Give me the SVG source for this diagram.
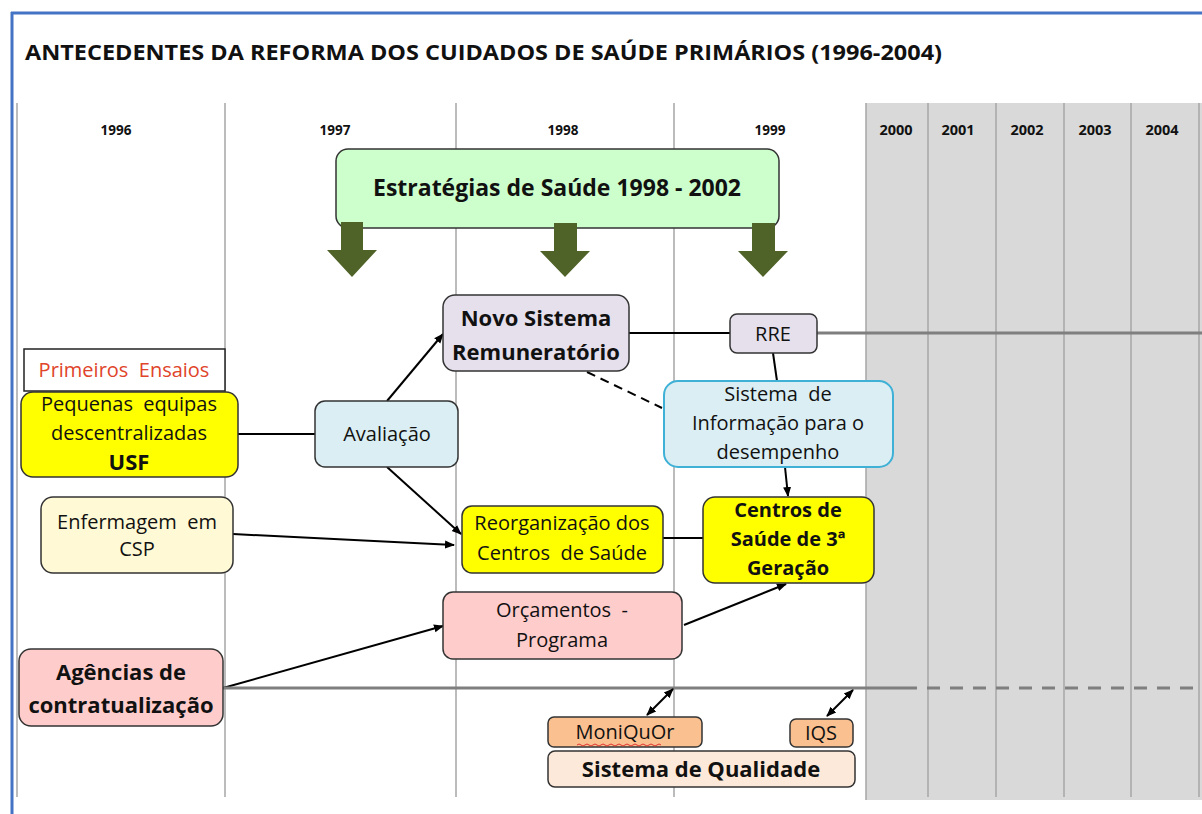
<svg xmlns="http://www.w3.org/2000/svg" width="1202" height="814" viewBox="0 0 1202 814">
<style>
text{font-family:"Open Sans","Liberation Sans",sans-serif;fill:#111;text-anchor:middle}
.yr{font-size:13.5px;font-weight:bold}
.yrg{font-size:14.5px;font-weight:bold}
.grid{stroke:#a6a6a6;stroke-width:1.5}
.n{font-size:20px}
.b{font-size:22px;font-weight:bold}
.box{stroke:#333;stroke-width:1.5}
.c{stroke:#000;stroke-width:2;fill:none}
.g{stroke:#7f7f7f;stroke-width:3;fill:none}
.ga{fill:#4f6228}
</style>
<defs>
<marker id="ah" markerWidth="10" markerHeight="10" refX="9" refY="5" orient="auto-start-reverse" markerUnits="userSpaceOnUse" viewBox="0 0 10 10">
<path d="M0 1 L10 5 L0 9 Z" fill="#000"/>
</marker>
</defs>
<rect x="0" y="0" width="1202" height="814" fill="#fff"/>
<g id="frame">
<line x1="11" y1="13" x2="1202" y2="13" stroke="#4472c4" stroke-width="3"/>
<line x1="12" y1="12" x2="12" y2="814" stroke="#4472c4" stroke-width="3"/>
</g>
<text x="25" y="60" style="font-size:21px;font-weight:bold;text-anchor:start" textLength="917" lengthAdjust="spacingAndGlyphs">ANTECEDENTES DA REFORMA DOS CUIDADOS DE SAÚDE PRIMÁRIOS (1996-2004)</text>
<g id="timeline">
<rect x="866" y="103" width="336" height="697" fill="#d9d9d9"/>
<line class="grid" x1="17" y1="103" x2="17" y2="797"/>
<line class="grid" x1="225" y1="103" x2="225" y2="797"/>
<line class="grid" x1="456" y1="103" x2="456" y2="797"/>
<line class="grid" x1="674" y1="103" x2="674" y2="797"/>
<line class="grid" x1="866" y1="103" x2="866" y2="800"/>
<line class="grid" x1="928" y1="103" x2="928" y2="797"/>
<line class="grid" x1="996" y1="103" x2="996" y2="797"/>
<line class="grid" x1="1064" y1="103" x2="1064" y2="797"/>
<line class="grid" x1="1131" y1="103" x2="1131" y2="797"/>
<line class="grid" x1="1199" y1="103" x2="1199" y2="797"/>
<text class="yr" x="116" y="135">1996</text>
<text class="yr" x="335" y="135">1997</text>
<text class="yr" x="563" y="135">1998</text>
<text class="yr" x="770" y="135">1999</text>
<text class="yrg" x="896" y="135">2000</text>
<text class="yrg" x="958" y="135">2001</text>
<text class="yrg" x="1027" y="135">2002</text>
<text class="yrg" x="1095" y="135">2003</text>
<text class="yrg" x="1162" y="135">2004</text>
</g>
<g id="connectors">
<path class="c" d="M238 434 L315 434"/>
<path class="c" d="M387 401 L443 334" marker-end="url(#ah)"/>
<path class="c" d="M387 467 L461 534" marker-end="url(#ah)"/>
<path class="c" d="M233 534 L454 545" marker-end="url(#ah)"/>
<path class="c" d="M629 333 L730 333"/>
<path class="g" d="M817 333 L1202 333"/>
<path class="c" d="M773 353 L777 381"/>
<path class="c" d="M587 372 L662 408" stroke-dasharray="9 6"/>
<path class="c" d="M785 467 L788 496" marker-end="url(#ah)"/>
<path class="c" d="M663 538 L703 538"/>
<path class="c" d="M684 625 L786 584" marker-end="url(#ah)"/>
<path class="c" d="M223 688 L443 626" marker-end="url(#ah)"/>
<path class="g" d="M223 688 L917 688"/>
<path class="g" d="M927 688 L1202 688" stroke-dasharray="13 10"/>
<path class="c" d="M647 715 L673 689" marker-start="url(#ah)" marker-end="url(#ah)"/>
<path class="c" d="M827 716 L853 690" marker-start="url(#ah)" marker-end="url(#ah)"/>
</g>
<g id="estrategias">
<rect class="box" x="336" y="149" width="443" height="79" rx="12" fill="#ccffcc"/>
<text class="b" x="557" y="196" style="font-size:23px">Estratégias de Saúde 1998 - 2002</text>
</g>
<g id="setas-verdes">
<path class="ga" d="M341 222 H363 V250 H377 L352 277 L327 250 H341 Z"/>
<path class="ga" d="M554 223 H577 V251 H590 L565 277 L540 251 H554 Z"/>
<path class="ga" d="M752 223 H775 V251 H788 L763 277 L738 251 H752 Z"/>
</g>
<g id="primeiros-ensaios">
<rect x="24" y="349" width="201" height="42" fill="#fff" stroke="#222" stroke-width="1.5"/>
<text x="124" y="377" style="font-size:20px;fill:#e0442a">Primeiros&#160; Ensaios</text>
</g>
<g id="usf">
<rect class="box" x="21" y="392" width="217" height="85" rx="12" fill="#ffff00"/>
<text class="n" x="129" y="411">Pequenas&#160; equipas</text>
<text class="n" x="129" y="440">descentralizadas</text>
<text class="b" x="129" y="470">USF</text>
</g>
<g id="avaliacao">
<rect class="box" x="315" y="401" width="143" height="66" rx="10" fill="#daeef3"/>
<text class="n" x="387" y="441">Avaliação</text>
</g>
<g id="novo-sistema">
<rect class="box" x="443" y="295" width="186" height="76" rx="12" fill="#e5e0ec"/>
<text class="b" x="536" y="326">Novo Sistema</text>
<text class="b" x="536" y="360">Remuneratório</text>
</g>
<g id="rre">
<rect class="box" x="730" y="314" width="87" height="39" rx="7" fill="#e5e0ec"/>
<text class="n" x="773" y="341">RRE</text>
</g>
<g id="sistema-informacao">
<rect x="664" y="381" width="229" height="86" rx="14" fill="#daeef3" stroke="#3fb1d6" stroke-width="2"/>
<text class="n" x="778" y="401">Sistema&#160; de</text>
<text class="n" x="778" y="430">Informação para o</text>
<text class="n" x="778" y="459">desempenho</text>
</g>
<g id="enfermagem">
<rect class="box" x="41" y="497" width="192" height="76" rx="12" fill="#fff9d5"/>
<text class="n" x="137" y="529">Enfermagem&#160; em</text>
<text class="n" x="137" y="556">CSP</text>
</g>
<g id="reorganizacao">
<rect class="box" x="462" y="506" width="201" height="67" rx="10" fill="#ffff00"/>
<text class="n" x="562" y="530">Reorganização dos</text>
<text class="n" x="562" y="560">Centros&#160; de Saúde</text>
</g>
<g id="centros-3g">
<rect class="box" x="703" y="497" width="171" height="86" rx="12" fill="#ffff00"/>
<text class="b" x="788" y="517" style="font-size:20px">Centros de</text>
<text class="b" x="788" y="546" style="font-size:20px">Saúde de 3ª</text>
<text class="b" x="788" y="575" style="font-size:20px">Geração</text>
</g>
<g id="orcamentos">
<rect class="box" x="443" y="592" width="239" height="67" rx="10" fill="#ffcccc"/>
<text class="n" x="562" y="617">Orçamentos&#160; -</text>
<text class="n" x="562" y="647">Programa</text>
</g>
<g id="agencias">
<rect class="box" x="19" y="649" width="204" height="77" rx="12" fill="#ffcccc"/>
<text class="b" x="121" y="680">Agências de</text>
<text class="b" x="121" y="713">contratualização</text>
</g>
<g id="moniquor">
<rect class="box" x="548" y="717" width="154" height="30" rx="6" fill="#fac090"/>
<text class="n" x="625" y="739">MoniQuOr</text>
<path d="M577 745 q2 -2 4 0 t4 0 t4 0 t4 0 t4 0 t4 0 t4 0 t4 0 t4 0 t4 0 t4 0 t4 0 t4 0 t4 0 t4 0 t4 0 t4 0 t4 0 t4 0 t4 0 t4 0" fill="none" stroke="#e03030" stroke-width="1"/>
</g>
<g id="iqs">
<rect class="box" x="790" y="719" width="63" height="28" rx="6" fill="#fac090"/>
<text class="n" x="821" y="740">IQS</text>
</g>
<g id="sistema-qualidade">
<rect class="box" x="548" y="751" width="307" height="36" rx="7" fill="#fde9d9"/>
<text class="b" x="701" y="777">Sistema de Qualidade</text>
</g>
</svg>
